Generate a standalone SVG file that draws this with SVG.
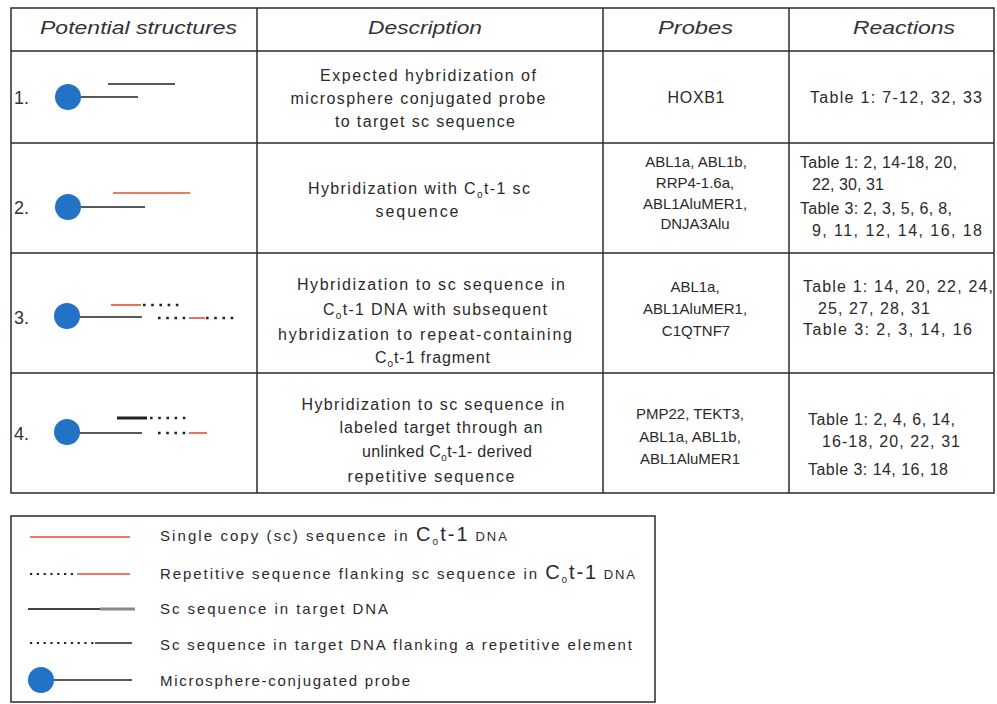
<svg xmlns="http://www.w3.org/2000/svg" width="997" height="704" viewBox="0 0 997 704">
<style>
.grid{fill:none;stroke:#2b2b2b;stroke-width:1.5}
.hd{font-family:"Liberation Sans",Arial,sans-serif;font-style:italic;font-size:19px;fill:#333}
.t{font-family:"Liberation Sans",Arial,sans-serif;font-size:16px;fill:#2a2a2a}
.p{font-family:"Liberation Sans",Arial,sans-serif;font-size:15px;fill:#2a2a2a;text-anchor:middle}
.m{text-anchor:middle}
.num{font-family:"Liberation Sans",Arial,sans-serif;font-size:18px;fill:#333}
.sub{font-size:10px}
.blk{stroke:#222;stroke-width:1.5;fill:none}
.red{stroke:#e4502b;stroke-width:1.6;fill:none}
.dot{stroke:#222;stroke-width:2.6;stroke-dasharray:2.6 5.6;fill:none}
.ldot{stroke:#222;stroke-width:2.2;stroke-dasharray:2.2 4.6;fill:none}
.bead{fill:#2272c6}
.lg{font-size:15px}
.big{font-size:20px}
.sm{font-size:13px}
</style>
<rect width="997" height="704" fill="#fff"/>
<g id="grid" class="grid">
<rect x="11" y="8" width="983" height="485"/>
<line x1="257" y1="8" x2="257" y2="493"/>
<line x1="603" y1="8" x2="603" y2="493"/>
<line x1="789" y1="8" x2="789" y2="493"/>
<line x1="11" y1="51" x2="994" y2="51"/>
<line x1="11" y1="143" x2="994" y2="143"/>
<line x1="11" y1="253" x2="994" y2="253"/>
<line x1="11" y1="373" x2="994" y2="373"/>
</g>
<g id="header">
<text class="hd" x="40" y="34" textLength="197" lengthAdjust="spacingAndGlyphs">Potential structures</text>
<text class="hd" x="368" y="34" textLength="114" lengthAdjust="spacingAndGlyphs">Description</text>
<text class="hd" x="658" y="34" textLength="75" lengthAdjust="spacingAndGlyphs">Probes</text>
<text class="hd" x="853" y="34" textLength="102" lengthAdjust="spacingAndGlyphs">Reactions</text>
</g>
<g id="row1">
<text class="num" x="14" y="104">1.</text>
<line class="blk" x1="68" y1="97" x2="138" y2="97"/>
<line class="blk" x1="108" y1="84" x2="175" y2="84"/>
<circle class="bead" cx="68" cy="97" r="13"/>
<text class="t m" x="428" y="81" textLength="216">Expected hybridization of</text>
<text class="t m" x="418" y="104" textLength="255">microsphere conjugated probe</text>
<text class="t m" x="425" y="127" textLength="180">to target sc sequence</text>
<text class="p" x="696" y="103" style="font-size:16px" textLength="57">HOXB1</text>
<text class="t" x="810" y="103" textLength="172">Table 1: 7-12, 32, 33</text>
</g>
<g id="row2">
<text class="num" x="14" y="214">2.</text>
<line class="blk" x1="68" y1="207" x2="145" y2="207"/>
<line class="red" x1="113" y1="193" x2="190" y2="193"/>
<circle class="bead" cx="68" cy="207" r="13"/>
<text class="t" x="308" y="194" textLength="222">Hybridization with C<tspan class="sub" dy="4">o</tspan><tspan dy="-4">t-1 sc</tspan></text>
<text class="t m" x="417" y="217" textLength="83">sequence</text>
<text class="p" x="696" y="167">ABL1a, ABL1b,</text>
<text class="p" x="695" y="188">RRP4-1.6a,</text>
<text class="p" x="695" y="209">ABL1AluMER1,</text>
<text class="p" x="695" y="229">DNJA3Alu</text>
<text class="t" x="800" y="168" textLength="157">Table 1: 2, 14-18, 20,</text>
<text class="t" x="812" y="190" textLength="72">22, 30, 31</text>
<text class="t" x="800" y="214" textLength="152">Table 3: 2, 3, 5, 6, 8,</text>
<text class="t" x="812" y="236" textLength="170">9, 11, 12, 14, 16, 18</text>
</g>
<g id="row3">
<text class="num" x="14" y="324">3.</text>
<line class="blk" x1="67" y1="317" x2="142" y2="317"/>
<line class="red" x1="111" y1="305" x2="141" y2="305"/>
<line class="dot" x1="143" y1="305" x2="184" y2="305"/>
<line class="dot" x1="158" y1="318" x2="188" y2="318"/>
<line class="red" x1="189" y1="318" x2="205" y2="318"/>
<line class="dot" x1="206" y1="318" x2="234" y2="318"/>
<circle class="bead" cx="67" cy="316" r="13"/>
<text class="t m" x="431" y="290" textLength="268">Hybridization to sc sequence in</text>
<text class="t" x="323" y="315" textLength="224">C<tspan class="sub" dy="4">o</tspan><tspan dy="-4">t-1 DNA with subsequent</tspan></text>
<text class="t m" x="425" y="340" textLength="294">hybridization to repeat-containing</text>
<text class="t" x="375" y="363" textLength="115">C<tspan class="sub" dy="4">o</tspan><tspan dy="-4">t-1 fragment</tspan></text>
<text class="p" x="695" y="292">ABL1a,</text>
<text class="p" x="695" y="314">ABL1AluMER1,</text>
<text class="p" x="696" y="336">C1QTNF7</text>
<text class="t" x="803" y="292" textLength="190">Table 1: 14, 20, 22, 24,</text>
<text class="t" x="818" y="314" textLength="112">25, 27, 28, 31</text>
<text class="t" x="803" y="335" textLength="169">Table 3:  2, 3, 14, 16</text>
</g>
<g id="row4">
<text class="num" x="14" y="440">4.</text>
<line class="blk" x1="67" y1="433" x2="142" y2="433"/>
<line stroke="#222" stroke-width="3" x1="117" y1="418" x2="147" y2="418"/>
<line class="dot" x1="150" y1="418" x2="190" y2="418"/>
<line class="dot" x1="158" y1="433" x2="188" y2="433"/>
<line class="red" x1="189" y1="433" x2="207" y2="433"/>
<circle class="bead" cx="67" cy="432" r="13"/>
<text class="t m" x="433" y="410" textLength="263">Hybridization to sc sequence in</text>
<text class="t m" x="441" y="433" textLength="203">labeled target through an</text>
<text class="t" x="362" y="457" textLength="170">unlinked C<tspan class="sub" dy="4">o</tspan><tspan dy="-4">t-1- derived</tspan></text>
<text class="t m" x="431" y="482" textLength="167">repetitive sequence</text>
<text class="p" x="690" y="419">PMP22, TEKT3,</text>
<text class="p" x="690" y="442">ABL1a, ABL1b,</text>
<text class="p" x="690" y="464">ABL1AluMER1</text>
<text class="t" x="808" y="425" textLength="147">Table 1: 2, 4, 6, 14,</text>
<text class="t" x="822" y="447" textLength="138">16-18, 20, 22, 31</text>
<text class="t" x="808" y="475" textLength="140">Table 3: 14, 16, 18</text>
</g>
<g id="legend">
<rect class="grid" x="11" y="516" width="644" height="186"/>
<line class="red" x1="30" y1="537" x2="130" y2="537"/>
<text class="t lg" x="160" y="541" textLength="347">Single copy (sc) sequence in <tspan class="big">C</tspan><tspan class="sub" dy="4">o</tspan><tspan class="big" dy="-4">t-1</tspan><tspan class="sm"> DNA</tspan></text>
<line class="ldot" x1="30" y1="574" x2="78" y2="574"/>
<line class="red" x1="78" y1="574" x2="130" y2="574"/>
<text class="t lg" x="160" y="579" textLength="475">Repetitive sequence flanking sc sequence in <tspan class="big">C</tspan><tspan class="sub" dy="4">o</tspan><tspan class="big" dy="-4">t-1</tspan><tspan class="sm"> DNA</tspan></text>
<line stroke="#444" stroke-width="2" x1="28" y1="609" x2="100" y2="609"/>
<line stroke="#8a8a8a" stroke-width="3" x1="100" y1="609" x2="135" y2="609"/>
<text class="t lg" x="160" y="614" textLength="228">Sc sequence in target DNA</text>
<line class="ldot" x1="30" y1="643" x2="95" y2="643"/>
<line class="blk" x1="95" y1="643" x2="132" y2="643" stroke-width="1.2"/>
<text class="t lg" x="160" y="650" textLength="472">Sc sequence in target DNA flanking a repetitive element</text>
<line class="blk" x1="41" y1="680" x2="132" y2="680" stroke-width="1.2"/>
<circle class="bead" cx="41" cy="680" r="13"/>
<text class="t lg" x="160" y="686" textLength="250">Microsphere-conjugated probe</text>
</g>
</svg>
